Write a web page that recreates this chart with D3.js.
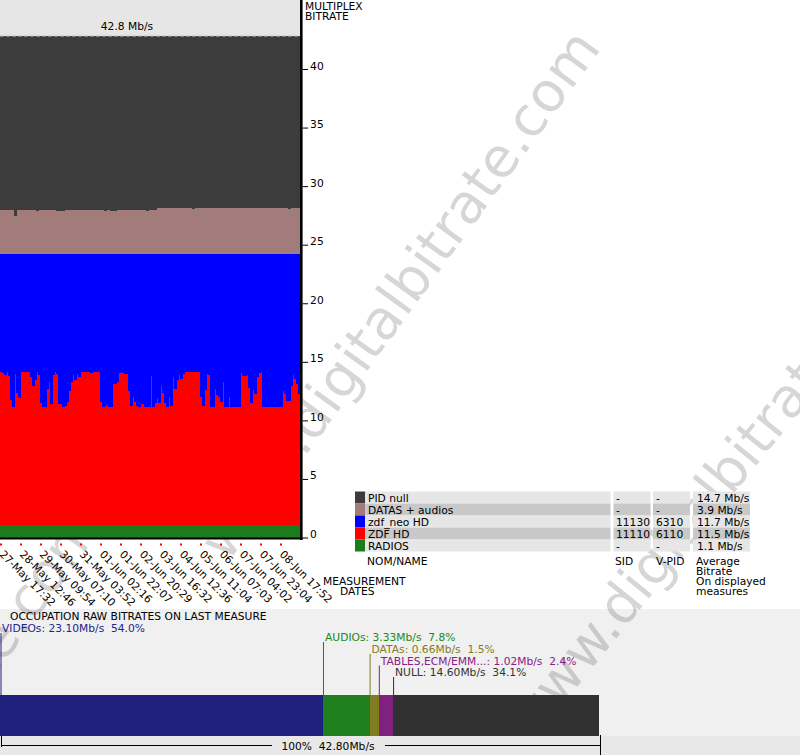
<!DOCTYPE html>
<html><head><meta charset="utf-8">
<script src="https://cdn.jsdelivr.net/npm/d3@7"></script>
<style>
body{margin:0;background:#fff;}
svg{display:block;font-family:"DejaVu Sans",Verdana,sans-serif;font-size:10.7px;}
</style>
</head><body>
<svg id="c" width="800" height="755"></svg>
<script>
// ---------- DATA ----------
const dateLabels = ["27-May 17:32","28-May 12:46","29-May 09:54","30-May 07:10","31-May 03:52",
  "01-Jun 02:16","01-Jun 22:07","02-Jun 20:29","03-Jun 16:32","04-Jun 12:36",
  "05-Jun 11:04","06-Jun 07:03","07-Jun 04:02","07-Jun 23:04","08-Jun 17:52"];
const yTicks = [0,5,10,15,20,25,30,35,40];
// ZDF HD bitrate per measure column (Mb/s)
const zdfHD = [
 13.1,13.0,12.8,13.1,12.7,10.7,10.1,12.9,11.3,10.8,
 13.1,13.1,13.1,13.1,13.1,12.6,11.9,12.4,13.1,12.8,
 10.4,10.1,10.1,11.6,12.2,10.3,12.8,13.1,12.9,10.3,
 10.3,10.1,10.2,10.5,11.4,12.2,12.8,12.4,12.9,12.6,
 13.1,13.1,13.1,13.1,13.1,13.0,13.1,13.1,13.1,13.1,
 10.5,10.1,10.2,10.3,10.1,10.1,12.0,12.0,12.2,13.0,
 13.1,13.0,12.9,12.9,11.4,10.2,10.9,10.5,10.2,10.1,
 10.3,10.3,10.1,10.1,10.1,12.7,10.1,10.4,10.8,10.4,
 11.9,11.3,10.4,10.1,10.9,10.2,12.6,11.6,12.4,12.8,
 12.5,12.9,13.1,13.1,13.1,13.1,13.1,13.1,13.1,13.1,
 10.9,10.2,11.5,12.9,12.8,10.1,10.1,11.6,11.1,10.9,
 10.5,12.2,10.1,10.1,10.9,10.1,10.1,10.1,10.1,10.1,
 13.0,12.7,12.7,12.8,11.7,10.4,11.5,11.2,12.6,13.0,
 13.1,10.1,10.1,10.1,10.1,10.1,10.1,10.1,10.1,10.1,
 10.1,11.4,11.2,10.6,10.6,11.9,12.8,12.5,12.0,11.2];
// DATAS + audios per measure column (Mb/s)
const datasAudios = [
 3.8,3.8,3.8,3.8,3.8,3.8,3.8,3.3,3.8,3.8,
 3.8,3.8,3.8,3.8,3.8,3.8,3.8,3.8,3.7,3.8,
 3.8,3.8,3.8,3.8,3.8,3.8,3.8,3.8,3.7,3.7,
 3.7,3.7,3.8,3.8,3.8,3.8,3.8,3.8,3.8,3.8,
 3.8,3.8,3.8,3.8,3.8,3.8,3.8,3.8,3.8,3.8,
 3.8,3.8,3.7,3.8,3.8,3.7,3.7,3.7,3.8,3.8,
 3.8,3.8,3.8,3.8,3.8,3.8,3.8,3.8,3.8,3.8,
 3.8,3.8,3.8,3.7,3.8,3.8,3.8,3.8,3.95,3.95,
 3.95,3.95,3.95,3.95,3.95,3.95,3.95,3.95,3.95,3.95,
 3.95,3.95,3.95,3.95,3.95,3.95,3.85,3.95,3.95,3.95,
 3.95,3.95,3.95,3.95,3.95,3.95,3.95,3.95,3.95,3.95,
 3.95,3.95,3.95,3.95,3.95,3.95,3.95,3.95,3.95,3.95,
 3.95,3.95,3.95,3.95,3.95,3.95,3.95,3.95,3.95,3.95,
 3.95,3.95,3.95,3.95,3.95,3.95,3.95,3.95,3.95,3.95,
 3.95,3.95,3.95,3.95,3.85,3.95,3.95,3.95,3.95,3.95];
const radiosRate = 1.07;     // constant RADIOS level
const videoTotal = 23.1;     // ZDF HD + zdf_neo HD (flat top of blue)
const multiplexTotal = 42.8; // total multiplex

const legendNames  = ["PID null","DATAS + audios","zdf_neo HD","ZDF HD","RADIOS"];
const legendColors = ["#3c3c3c","#a27c7a","#0000ff","#ff0000","#1c7c1c"];
const legendSID    = ["-","-","11130","11110","-"];
const legendVPID   = ["-","-","6310","6110","-"];
const legendAvg    = ["14.7 Mb/s","3.9 Mb/s","11.7 Mb/s","11.5 Mb/s","1.1 Mb/s"];

const occNames  = ["VIDEOs","AUDIOs","DATAs","TABLES,ECM/EMM...","NULL"];
const occValues = [23.10,3.33,0.66,1.02,14.60];
const occPct    = [54.0,7.8,1.5,2.4,34.1];
const occColors = ["#20207e","#208020","#807c20","#802080","#303030"];
const occText   = ["#24248c","#228822","#847c20","#882088","#333333"];

// ---------- DRAW ----------
const svg = d3.select("#c");

// bottom panel background
svg.append("rect").attr("x",0).attr("y",609).attr("width",800).attr("height",146).attr("fill","#f0f0f0");
svg.append("rect").attr("x",0).attr("y",736).attr("width",800).attr("height",19).attr("fill","#e8e8e8");

// watermark (behind)
const wm = svg.append("g").attr("fill","#000").attr("fill-opacity",0.16)
  .style("font-family","'DejaVu Sans',Verdana,sans-serif").style("font-size","55px");
wm.append("text").attr("text-anchor","end").attr("transform","translate(602,48) rotate(-54)").text("www.digitalbitrate.com");
wm.append("text").attr("text-anchor","end").attr("transform","translate(102,528) rotate(-54)").text("www.digitalbitrate.com");
wm.append("text").attr("text-anchor","start").attr("transform","translate(531,744) rotate(-51)").text("www.digitalbitrate.com");

// top chart
const idx = d3.range(zdfHD.length);
const x = d3.scaleBand().domain(idx).range([0,300]).padding(0);
const y = d3.scaleLinear().domain([0,40]).range([537.5,69]);

svg.append("rect").attr("x",0).attr("y",0).attr("width",300).attr("height",y(multiplexTotal)).attr("fill","#e6e6e6");

const rows = idx.map(i => ({
  i,
  radios: radiosRate,
  zdf: zdfHD[i],
  neo: videoTotal - zdfHD[i],
  datas: datasAudios[i],
  nul: multiplexTotal - radiosRate - videoTotal - datasAudios[i]
}));
const keys = ["radios","zdf","neo","datas","nul"];
const keyColor = {radios:"#1c7c1c", zdf:"#ff0000", neo:"#0000ff", datas:"#a27c7a", nul:"#3c3c3c"};
const series = d3.stack().keys(keys)(rows);

const gBars = svg.append("g").attr("shape-rendering","crispEdges");
gBars.selectAll("g").data(series).join("g")
  .attr("fill", s => keyColor[s.key])
  .selectAll("rect").data(s => s).join("rect")
  .attr("x", d => x(d.data.i))
  .attr("width", x.bandwidth()+0.6)
  .attr("y", d => y(d[1]))
  .attr("height", d => y(d[0]) - y(d[1]));

// dashed max line + label
svg.append("line").attr("x1",0).attr("x2",300).attr("y1",y(multiplexTotal)).attr("y2",y(multiplexTotal))
  .attr("stroke","#a0a0a0").attr("stroke-dasharray","4,2").attr("stroke-width",1);
svg.append("text").attr("x",127).attr("y",30).attr("text-anchor","middle").text(multiplexTotal + " Mb/s");

// axes frame
svg.append("rect").attr("x",300).attr("y",0).attr("width",2.6).attr("height",540).attr("fill","#000");
svg.append("rect").attr("x",0).attr("y",537.5).attr("width",302.6).attr("height",2).attr("fill","#000");

// y axis (right)
const yAxis = svg.append("g").attr("transform","translate(302.6,0)")
  .call(d3.axisRight(y).tickValues(yTicks).tickSize(5.5).tickPadding(2).tickFormat(d3.format("d")));
yAxis.select(".domain").remove();
yAxis.selectAll("line").attr("stroke","#000");
yAxis.selectAll("text").attr("dy","0").style("font-family","'DejaVu Sans',Verdana,sans-serif").style("font-size","10.7px").attr("fill","#000");

svg.append("text").attr("x",305).attr("y",10).text("MULTIPLEX");
svg.append("text").attr("x",305).attr("y",20).text("BITRATE");

// x axis date marks
const dateIdx = dateLabels.map((d,k) => k*10);
svg.append("g").selectAll("rect").data(dateIdx).join("rect")
  .attr("x", i => x(i)).attr("y",543.5).attr("width",2).attr("height",2).attr("fill","#ff0000");
svg.append("g").selectAll("text").data(dateLabels).join("text")
  .attr("transform",(d,k) => `translate(${x(dateIdx[k])-1},555) rotate(45)`)
  .text(d => d);
svg.append("text").attr("x",323).attr("y",585).text("MEASUREMENT");
svg.append("text").attr("x",340).attr("y",595).text("DATES");

// legend table
const rowH = 12, t0 = 491.5;
const lg = svg.append("g");
const lgText = svg.append("g");
const cols = [{x:365,w:245.5},{x:613.5,w:37},{x:653,w:37},{x:693,w:57}];
legendNames.forEach((n,i) => {
  const yy = t0 + i*rowH;
  const bg = (i%2===1) ? "#c8c8c8" : "#e6e6e6";
  lg.append("rect").attr("x",355).attr("y",yy).attr("width",10).attr("height",rowH).attr("fill",legendColors[i]);
  cols.forEach(c => lg.append("rect").attr("x",c.x).attr("y",yy).attr("width",c.w).attr("height",rowH).attr("fill",bg));
  lgText.append("text").attr("x",368).attr("y",yy+10).text(n);
  lgText.append("text").attr("x",616).attr("y",yy+10).text(legendSID[i]);
  lgText.append("text").attr("x",656).attr("y",yy+10).text(legendVPID[i]);
  lgText.append("text").attr("x",697).attr("y",yy+10).text(legendAvg[i]);
});
lgText.append("text").attr("x",367).attr("y",565).text("NOM/NAME");
lgText.append("text").attr("x",615).attr("y",565).text("SID");
lgText.append("text").attr("x",656).attr("y",565).text("V-PID");
["Average","Bitrate","On displayed","measures"].forEach((t,i) =>
  lgText.append("text").attr("x",696).attr("y",565+i*10).text(t));

// occupation bar
svg.append("text").attr("x",10).attr("y",620).text("OCCUPATION RAW BITRATES ON LAST MEASURE");
const xb = d3.scaleLinear().domain([0,multiplexTotal]).range([0,598.5]);
const starts = occValues.map((v,i) => d3.sum(occValues.slice(0,i)));
const gOcc = svg.append("g").attr("shape-rendering","crispEdges");
gOcc.selectAll("rect").data(occValues).join("rect")
  .attr("x",(v,i) => xb(starts[i])).attr("y",695).attr("height",41)
  .attr("width",(v,i) => i===occValues.length-1 ? xb(multiplexTotal)-xb(starts[i]) : xb(v)+0.5)
  .attr("fill",(v,i) => occColors[i]);
const labelY = [632,641,653,664.5,676];
occNames.forEach((n,i) => {
  const lx = Math.max(1, xb(starts[i]) + 0.5);
  svg.append("line").attr("x1",lx).attr("x2",lx).attr("y1",labelY[i]+1).attr("y2",695)
    .attr("stroke",occColors[i]).attr("stroke-width",1);
  svg.append("text").attr("x", i===0 ? 2 : xb(starts[i])+2).attr("y",labelY[i]).attr("fill",occText[i])
    .attr("xml:space","preserve")
    .text(`${n}: ${occValues[i].toFixed(2)}Mb/s  ${occPct[i].toFixed(1)}%`);
});
// total scale line
svg.append("line").attr("x1",1.5).attr("x2",1.5).attr("y1",736).attr("y2",747).attr("stroke","#000");
svg.append("line").attr("x1",600.5).attr("x2",600.5).attr("y1",735).attr("y2",755).attr("stroke","#000");
svg.append("line").attr("x1",1.5).attr("x2",272).attr("y1",745.5).attr("y2",745.5).attr("stroke","#000");
svg.append("line").attr("x1",385).attr("x2",600.5).attr("y1",745.5).attr("y2",745.5).attr("stroke","#000");
svg.append("text").attr("x",328).attr("y",750).attr("text-anchor","middle").attr("xml:space","preserve")
  .text(`100%  ${multiplexTotal.toFixed(2)}Mb/s`);
</script>
</body></html>
